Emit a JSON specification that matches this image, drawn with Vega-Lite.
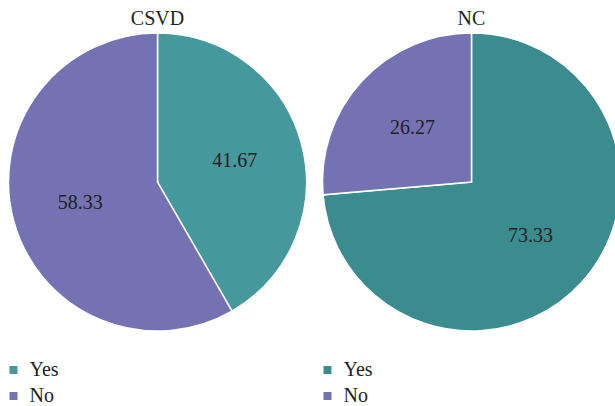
{
  "$schema": "https://vega.github.io/schema/vega-lite/v6.json",
  "background": "white",
  "padding": {"left": 3.5, "top": 9, "right": -6, "bottom": 0},
  "config": {
    "view": {"stroke": null},
    "font": "Liberation Serif, Times New Roman, serif",
    "text": {"font": "Liberation Serif, Times New Roman, serif"},
    "legend": {
      "orient": "none", "legendX": -5, "legendY": 327, "title": null,
      "symbolType": "square", "symbolSize": 64, "symbolStrokeWidth": 0,
      "labelFontSize": 20, "labelFont": "Liberation Serif, Times New Roman, serif", "labelColor": "#231f20",
      "labelOffset": 6, "rowPadding": 6, "padding": 0
    },
    "title": {"fontSize": 20, "fontWeight": "normal", "font": "Liberation Serif, Times New Roman, serif", "color": "#231f20", "baseline": "alphabetic", "offset": 1}
  },
  "data": {"values": [
    {"group": "CSVD", "answer": "Yes", "value": 41.67},
    {"group": "CSVD", "answer": "No", "value": 58.33},
    {"group": "NC", "answer": "Yes", "value": 73.33},
    {"group": "NC", "answer": "No", "value": 26.27}
  ]},
  "spacing": 8,
  "hconcat": [
    {
      "title": "CSVD",
      "width": 298, "height": 298,
      "transform": [{"filter": "datum.group === 'CSVD'"}],
      "encoding": {
        "theta": {"field": "value", "type": "quantitative", "stack": true},
        "order": {"field": "answer", "sort": "descending"},
        "color": {"field": "answer", "type": "nominal", "scale": {"domain": ["Yes", "No"], "range": ["#45989c", "#7472b3"]}}
      },
      "layer": [
        {"mark": {"type": "arc", "stroke": "white", "strokeWidth": 1.5}},
        {"mark": {"type": "text", "radius": 80, "fontSize": 20, "font": "Liberation Serif, Times New Roman, serif"},
         "encoding": {"text": {"field": "value", "type": "quantitative", "format": ".2f"}, "color": {"value": "#231f20"}, "detail": {"field": "answer"}}}
      ]
    },
    {
      "title": "NC",
      "width": 298, "height": 298,
      "transform": [{"filter": "datum.group === 'NC'"}],
      "encoding": {
        "theta": {"field": "value", "type": "quantitative", "stack": true},
        "order": {"field": "answer", "sort": "descending"},
        "color": {"field": "answer", "type": "nominal", "scale": {"domain": ["Yes", "No"], "range": ["#3a8c8f", "#7472b3"]}}
      },
      "layer": [
        {"mark": {"type": "arc", "stroke": "white", "strokeWidth": 1.5}},
        {"mark": {"type": "text", "radius": 80, "fontSize": 20, "font": "Liberation Serif, Times New Roman, serif"},
         "encoding": {"text": {"field": "value", "type": "quantitative", "format": ".2f"}, "color": {"value": "#231f20"}, "detail": {"field": "answer"}}}
      ]
    }
  ],
  "resolve": {"scale": {"color": "independent"}}
}
